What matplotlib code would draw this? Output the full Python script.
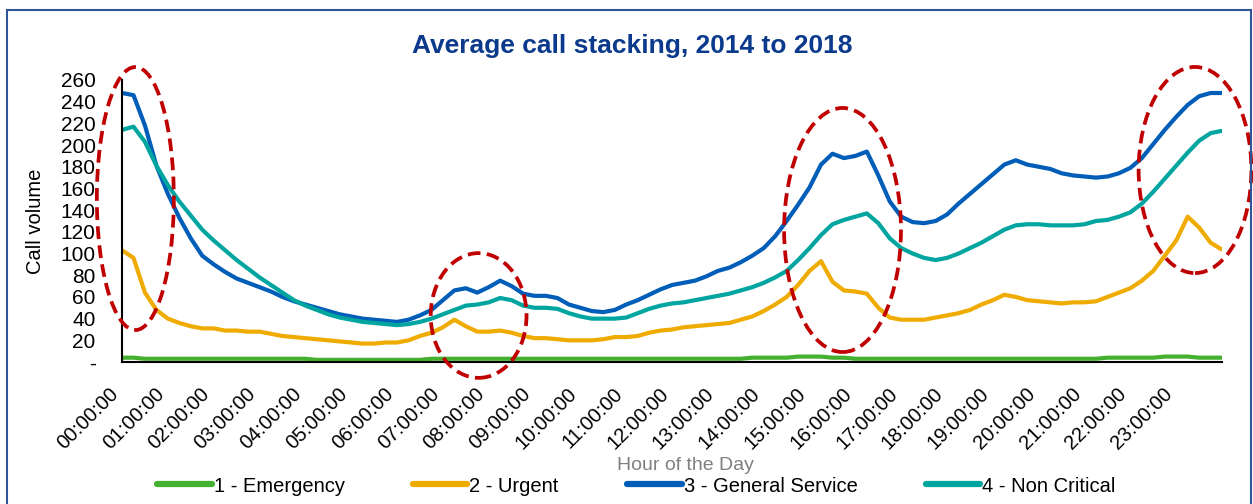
import numpy as np
import matplotlib
matplotlib.use("Agg")
import matplotlib.pyplot as plt
import matplotlib.transforms as mtransforms
from matplotlib.patches import Ellipse, Rectangle

plt.rcParams['font.family'] = ['Liberation Sans', 'DejaVu Sans']

# quarter-hour samples (minutes after midnight), last point at 23:59
minutes = np.append(np.arange(0, 1440, 15), 1439)
hours = minutes / 60.0

emergency = [
    4, 4, 3, 3, 3, 3, 3, 3,
    3, 3, 3, 3, 3, 3, 3, 3,
    3, 2, 2, 2, 2, 2, 2, 2,
    2, 2, 2, 3, 3, 3, 3, 3,
    3, 3, 3, 3, 3, 3, 3, 3,
    3, 3, 3, 3, 3, 3, 3, 3,
    3, 3, 3, 3, 3, 3, 3, 4,
    4, 4, 4, 5, 5, 5, 4, 4,
    3, 3, 3, 3, 3, 3, 3, 3,
    3, 3, 3, 3, 3, 3, 3, 3,
    3, 3, 3, 3, 3, 3, 4, 4,
    4, 4, 4, 5, 5, 5, 4, 4,
    4]
urgent = [
    103, 96, 64, 48, 40, 36, 33, 31,
    31, 29, 29, 28, 28, 26, 24, 23,
    22, 21, 20, 19, 18, 17, 17, 18,
    18, 20, 24, 27, 32, 39, 33, 28,
    28, 29, 27, 24, 22, 22, 21, 20,
    20, 20, 21, 23, 23, 24, 27, 29,
    30, 32, 33, 34, 35, 36, 39, 42,
    47, 53, 60, 71, 84, 93, 74, 66,
    65, 63, 50, 41, 39, 39, 39, 41,
    43, 45, 48, 53, 57, 62, 60, 57,
    56, 55, 54, 55, 55, 56, 60, 64,
    68, 75, 84, 98, 112, 134, 124, 110,
    104]
general = [
    248, 246, 218, 181, 155, 133, 114, 98,
    90, 83, 77, 73, 69, 65, 60, 56,
    53, 50, 47, 44, 42, 40, 39, 38,
    37, 39, 43, 48, 57, 66, 68, 64,
    69, 75, 70, 63, 61, 61, 59, 53,
    50, 47, 46, 48, 53, 57, 62, 67,
    71, 73, 75, 79, 84, 87, 92, 98,
    105, 116, 130, 145, 161, 182, 192, 188,
    190, 194, 172, 148, 134, 129, 128, 130,
    136, 146, 155, 164, 173, 182, 186, 182,
    180, 178, 174, 172, 171, 170, 171, 174,
    179, 188, 201, 214, 226, 237, 245, 248,
    248]
non_critical = [
    214, 217, 203, 181, 163, 148, 135, 122,
    112, 103, 94, 86, 78, 71, 64, 57,
    52, 48, 44, 41, 39, 37, 36, 35,
    34, 35, 37, 40, 44, 48, 52, 53,
    55, 59, 57, 52, 50, 50, 49, 45,
    42, 40, 40, 40, 41, 45, 49, 52,
    54, 55, 57, 59, 61, 63, 66, 69,
    73, 78, 84, 94, 105, 117, 127, 131,
    134, 137, 128, 114, 105, 100, 96, 94,
    96, 100, 105, 110, 116, 122, 126, 127,
    127, 126, 126, 126, 127, 130, 131, 134,
    138, 146, 157, 169, 181, 193, 204, 211,
    213]

series = [
    ("1 - Emergency", emergency, "#44B02F"),
    ("2 - Urgent", urgent, "#F0AB00"),
    ("3 - General Service", general, "#005EB8"),
    ("4 - Non Critical", non_critical, "#00A59F"),
]

tick_hours = np.arange(0, 24)
tick_labels = ["%02d:00:00" % h for h in tick_hours]
y_ticks = np.arange(0, 261, 20)
y_labels = ["-"] + [str(v) for v in y_ticks[1:]]

# highlighted regions: (centre hour, centre volume, width in hours, height in calls)
highlights = [
    (0.29, 150.7, 1.68, 242.5),
    (7.78, 42.9, 2.09, 115.0),
    (15.72, 121.7, 2.55, 225.0),
    (23.41, 177.0, 2.46, 190.0),
]

fig = plt.figure(figsize=(12.53, 5.04), dpi=100)
ax = fig.add_axes([0.0974, 0.2817, 0.8779, 0.5596])

for label, values, color in series:
    ax.plot(hours, values, color=color, lw=3, label=label, solid_capstyle='round')

for cx, cy, w, h in highlights:
    ax.add_patch(Ellipse((cx, cy), w, h, fill=False, edgecolor="#C00000", lw=2.7,
                         linestyle=(0, (3.4, 1.7)), clip_on=False, zorder=5))

ax.set_xlim(0, 24)
ax.set_ylim(0, 260)
ax.set_xticks(tick_hours)
ax.set_xticklabels(tick_labels, rotation=45, ha='right', fontsize=14.5)
shift = mtransforms.ScaledTranslation(0.06, 0, fig.dpi_scale_trans)
for lbl in ax.get_xticklabels():
    lbl.set_transform(lbl.get_transform() + shift)
ax.set_yticks(y_ticks)
ax.set_yticklabels(y_labels, fontsize=15)
ax.tick_params(axis='x', length=0, pad=16)
ax.tick_params(axis='y', length=0, pad=19)
for side in ["top", "right"]:
    ax.spines[side].set_visible(False)
for side in ["left", "bottom"]:
    ax.spines[side].set_color("black")
    ax.spines[side].set_linewidth(1.5)

ax.set_ylabel("Call volume", fontsize=14.5, labelpad=11)
fig.text(0.547, 1 - 466 / 504, "Hour of the Day", ha='center', va='center',
         fontsize=14, color="#808080")
fig.text(0.5045, 1 - 46 / 504, "Average call stacking, 2014 to 2018", ha='center',
         va='center', fontsize=19, fontweight='bold', color="#0B3A8C")

leg = fig.legend(loc='center', bbox_to_anchor=(0.508, 1 - 486 / 504), ncol=4,
                 frameon=False, fontsize=14.5, handlelength=2.7, handletextpad=0.1,
                 columnspacing=3.4)
for line in leg.get_lines():
    line.set_linewidth(4.5)

# outer frame of the panel
fig.add_artist(Rectangle((7 / 1253, -0.05), 1244 / 1253, 1.05 - 10 / 504,
                         transform=fig.transFigure, fill=False,
                         edgecolor="#2F5597", lw=1.5, clip_on=False))

fig.savefig("out.png", dpi=100)
